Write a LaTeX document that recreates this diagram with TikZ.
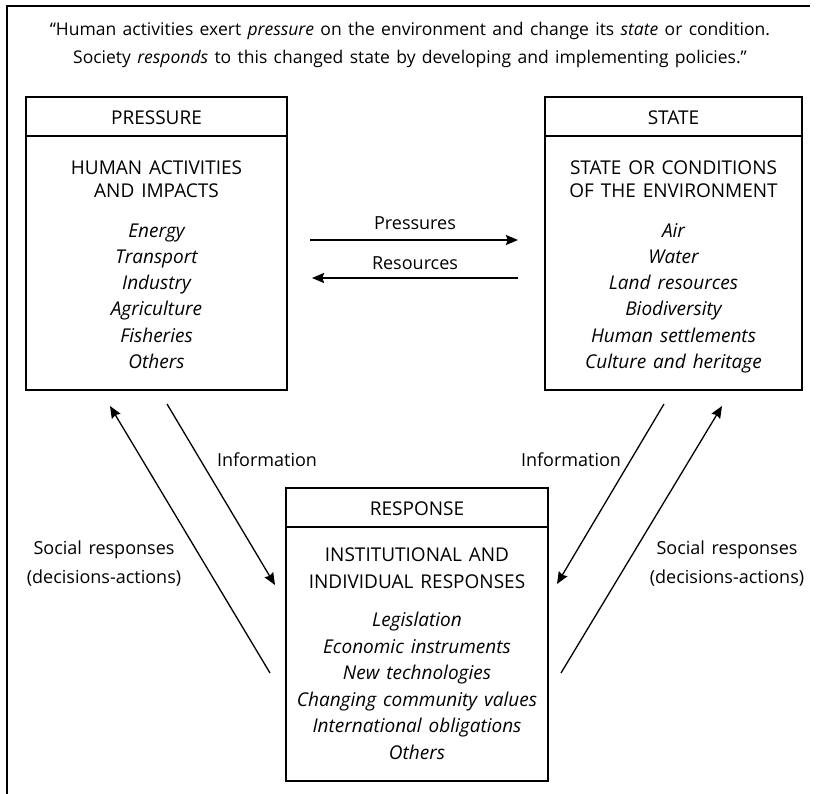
\documentclass[tikz,border=0pt]{standalone}
\usepackage{fontspec}
\setmainfont{Open Sans}[WordSpace=1.4]
\usetikzlibrary{arrows.meta}
\begin{document}
\begin{tikzpicture}[x=1pt,y=-1pt,
  box/.style={draw, line width=1.2pt, inner sep=0pt, minimum height=293pt},
  rule/.style={line width=1.4pt},
  txt/.style={anchor=base, inner sep=0pt, font=\fontsize{19}{22}\selectfont},
  item/.style={txt, font=\fontsize{19}{22}\selectfont\itshape},
  lbl/.style={anchor=base, inner sep=0pt, font=\fontsize{18}{21}\selectfont},
  quote/.style={anchor=base, inner sep=0pt, font=\fontsize{17.5}{20}\selectfont},
  flow/.style={line width=1.3pt, -{Stealth[length=12pt,width=10pt,inset=1.5pt]}}]
\useasboundingbox (0,0) rectangle (819,794);

% open outer frame (top and left edges only)
\draw[line width=1.8pt] (7,794) -- (7,6) -- (810,6);

% quotation
\node[quote] (q1) at (410,36) {“Human activities exert \textit{pressure} on the environment and change its \textit{state} or condition.};
\node[quote] (q2) at (410,64) {Society \textit{responds} to this changed state by developing and implementing policies.”};

% ---------- PRESSURE ----------
\node[box, minimum width=261pt] (pbox) at (156.5,243.5) {};
\coordinate (ph) at (0,136);
\draw[rule] (pbox.west |- ph) -- (pbox.east |- ph);
\node[txt] (ptitle) at (156.5,125) {PRESSURE};
\node[txt] (pc1) at (156.5,174.5) {HUMAN ACTIVITIES};
\node[txt] (pc2) at (156.5,197.5) {AND IMPACTS};
\foreach \t [count=\i] in {Energy,Transport,Industry,Agriculture,Fisheries,Others}
  \node[item] (p\i) at (156.5,{238+26*(\i-1)}) {\t};

% ---------- STATE ----------
\node[box, minimum width=257pt] (sbox) at (673.5,243.5) {};
\draw[rule] (sbox.west |- ph) -- (sbox.east |- ph);
\node[txt] (stitle) at (673.5,125) {STATE};
\node[txt] (sc1) at (673.5,174.5) {STATE OR CONDITIONS};
\node[txt] (sc2) at (673.5,197.5) {OF THE ENVIRONMENT};
\foreach \t [count=\i] in {Air,Water,Land resources,Biodiversity,Human settlements,Culture and heritage}
  \node[item] (s\i) at (673.5,{238+26*(\i-1)}) {\t};

% ---------- RESPONSE ----------
\node[box, minimum width=262pt] (rbox) at (417,634.5) {};
\coordinate (rh) at (0,527);
\draw[rule] (rbox.west |- rh) -- (rbox.east |- rh);
\node[txt] (rtitle) at (417,515) {RESPONSE};
\node[txt] (rc1) at (417,561.5) {INSTITUTIONAL AND};
\node[txt] (rc2) at (417,588.5) {INDIVIDUAL RESPONSES};
\foreach \t [count=\i] in {Legislation,Economic instruments,New technologies,Changing community values,International obligations,Others}
  \node[item] (r\i) at (417,{626.5+26.5*(\i-1)}) {\t};

% ---------- flow end points ----------
\coordinate (pa1) at (310,240);  \coordinate (sa1) at (518,240);
\coordinate (sa2) at (518,278);  \coordinate (pa2) at (312,278);
\coordinate (pi0) at (167,404);  \coordinate (ri0) at (275,585);
\coordinate (rs0) at (270,673);  \coordinate (ps0) at (110,406);
\coordinate (si0) at (664,404);  \coordinate (ri1) at (557,584);
\coordinate (rs1) at (561,673);  \coordinate (ss1) at (722,406);

\draw[flow] (pa1) -- (sa1);
\draw[flow] (sa2) -- (pa2);
\draw[flow] (pi0) -- (ri0);
\draw[flow] (rs0) -- (ps0);
\draw[flow] (si0) -- (ri1);
\draw[flow] (rs1) -- (ss1);

% ---------- flow labels ----------
\node[lbl] (lpress) at (415,230) {Pressures};
\node[lbl] (lres) at (415,270) {Resources};
\node[lbl] (linfo1) at (267,466) {Information};
\node[lbl] (linfo2) at (571,466) {Information};
\node[lbl] (lsoc1a) at (104,554) {Social responses};
\node[lbl] (lsoc1b) at (104,583) {(decisions-actions)};
\node[lbl] (lsoc2a) at (727,554) {Social responses};
\node[lbl] (lsoc2b) at (727,583) {(decisions-actions)};
\end{tikzpicture}
\end{document}
